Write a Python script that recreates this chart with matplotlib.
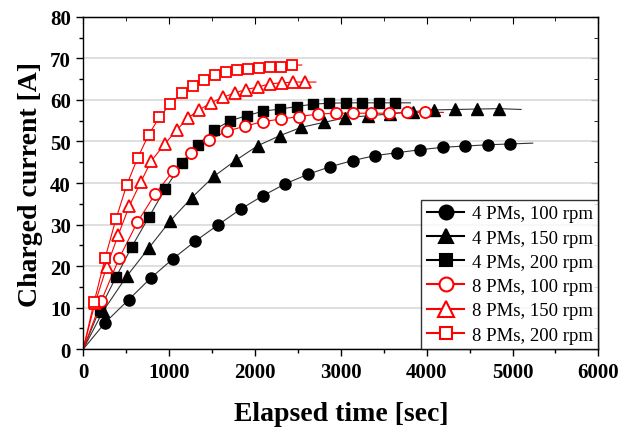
import matplotlib.pyplot as plt

plt.rcParams['font.family'] = ['Liberation Serif', 'DejaVu Serif']

# 4 PMs, 100 rpm
t_4_100 = [256, 529, 785, 1048, 1305, 1569, 1833, 2089, 2353, 2617, 2874, 3138, 3401, 3658, 3922, 4186, 4450, 4714, 4970]
i_4_100 = [6.4, 11.9, 17.1, 21.8, 26.0, 29.9, 33.7, 36.9, 39.8, 42.1, 43.9, 45.4, 46.6, 47.3, 48.0, 48.6, 48.9, 49.2, 49.4]
# 4 PMs, 150 rpm
t_4_150 = [233, 505, 762, 1010, 1266, 1522, 1779, 2035, 2291, 2540, 2804, 3052, 3320, 3572, 3844, 4085, 4333, 4589, 4846]
i_4_150 = [9.2, 17.5, 24.3, 30.8, 36.5, 41.6, 45.5, 49.0, 51.4, 53.4, 54.6, 55.7, 56.2, 56.6, 57.2, 57.6, 57.7, 57.8, 57.9]
# 4 PMs, 200 rpm
t_4_200 = [190, 381, 567, 762, 955, 1150, 1340, 1526, 1712, 1903, 2097, 2291, 2485, 2680, 2866, 3060, 3246, 3441, 3635]
i_4_200 = [9.5, 17.3, 24.7, 31.7, 38.6, 44.7, 49.2, 52.8, 55.0, 56.2, 57.3, 57.8, 58.4, 59.0, 59.2, 59.3, 59.3, 59.3, 59.3]
# 8 PMs, 100 rpm
t_8_100 = [210, 419, 629, 839, 1048, 1251, 1468, 1677, 1887, 2097, 2306, 2516, 2734, 2943, 3145, 3348, 3557, 3767, 3984]
i_8_100 = [11.6, 21.9, 30.5, 37.4, 42.9, 47.2, 50.4, 52.5, 53.7, 54.8, 55.4, 56.0, 56.6, 56.8, 56.8, 56.8, 56.8, 57.0, 57.0]
# 8 PMs, 150 rpm
t_8_150 = [136, 272, 408, 536, 672, 792, 950, 1088, 1216, 1351, 1487, 1624, 1767, 1895, 2038, 2175, 2311, 2446, 2585]
i_8_150 = [11.0, 19.7, 27.5, 34.4, 40.3, 45.3, 49.4, 52.7, 55.6, 57.6, 59.3, 60.6, 61.7, 62.5, 63.1, 63.9, 64.1, 64.3, 64.3]
# 8 PMs, 200 rpm
t_8_200 = [128, 256, 381, 505, 633, 762, 886, 1014, 1150, 1281, 1409, 1538, 1662, 1794, 1918, 2043, 2175, 2303, 2431]
i_8_200 = [11.4, 22.0, 31.3, 39.4, 46.0, 51.6, 55.8, 59.0, 61.7, 63.3, 64.8, 65.9, 66.7, 67.3, 67.5, 67.6, 67.9, 68.0, 68.4]

# where each fitted line ends
tail_t = [5235, 5100, 3810, 4195, 2710, 2545]
tail_i = [49.6, 57.7, 59.3, 57.0, 64.3, 68.4]

labels = ['4 PMs, 100 rpm', '4 PMs, 150 rpm', '4 PMs, 200 rpm',
          '8 PMs, 100 rpm', '8 PMs, 150 rpm', '8 PMs, 200 rpm']
times = [t_4_100, t_4_150, t_4_200, t_8_100, t_8_150, t_8_200]
currents = [i_4_100, i_4_150, i_4_200, i_8_100, i_8_150, i_8_200]
markers = ['o', '^', 's', 'o', '^', 's']
msizes = [8, 8.5, 7, 8, 9, 7]

fig = plt.figure(figsize=(6.4, 4.35), dpi=100)
ax = fig.add_axes([0.130, 0.195, 0.805, 0.764])

for k in range(6):
    red = k >= 3
    col = 'red' if red else 'black'
    tl = [0] + times[k] + [tail_t[k]]
    il = [0] + currents[k] + [tail_i[k]]
    ax.plot(tl, il, '-', color=col if red else '#333333', lw=0.8, zorder=2)
    ax.plot(times[k], currents[k], linestyle='none', marker=markers[k], ms=msizes[k],
            markerfacecolor='white' if red else 'black', markeredgecolor=col,
            markeredgewidth=1.3 if red else 1, zorder=3)
    # legend proxy
    ax.plot([], [], '-', color=col, lw=1.5, marker=markers[k], ms=msizes[k] + 2,
            markerfacecolor='white' if red else 'black', markeredgecolor=col,
            markeredgewidth=1.5, label=labels[k])

ax.set_xlim(0, 6000)
ax.set_ylim(0, 80)
ax.set_xticks(range(0, 6001, 1000))
ax.set_yticks(range(0, 81, 10))
ax.set_xticks(range(500, 6000, 1000), minor=True)
ax.set_yticks(range(5, 80, 10), minor=True)
ax.grid(axis='y', color='#d9d9d9', lw=1.2, zorder=0)
ax.set_axisbelow(True)

ax.tick_params(which='both', direction='out', top=False, right=False, width=1)
ax.tick_params(which='major', length=5, labelsize=15, pad=4)
ax.tick_params(which='minor', length=3)
for lab in ax.get_xticklabels() + ax.get_yticklabels():
    lab.set_fontweight('bold')
# inward ticks on top and right
sec_x = ax.secondary_xaxis('top')
sec_x.set_xticks(range(0, 6001, 1000))
sec_x.set_xticks(range(500, 6000, 1000), minor=True)
sec_x.tick_params(which='both', direction='in', labeltop=False)
sec_x.tick_params(which='major', length=5)
sec_x.tick_params(which='minor', length=3)
sec_y = ax.secondary_yaxis('right')
sec_y.set_yticks(range(0, 81, 10))
sec_y.set_yticks(range(5, 80, 10), minor=True)
sec_y.tick_params(which='both', direction='in', labelright=False)
sec_y.tick_params(which='major', length=5)
sec_y.tick_params(which='minor', length=3)
for s in ax.spines.values():
    s.set_linewidth(1.0)

ax.set_xlabel('Elapsed time [sec]', fontsize=20, fontweight='bold', labelpad=14)
ax.set_ylabel('Charged current [A]', fontsize=20, fontweight='bold', labelpad=5)

leg = ax.legend(loc='lower right', fontsize=13.5, frameon=True, fancybox=False,
                edgecolor='black', borderaxespad=0, handlelength=2.0,
                labelspacing=0.38, borderpad=0.3, handletextpad=0.4)
leg.get_frame().set_linewidth(1.0)

fig.savefig('out.png', dpi=100)
